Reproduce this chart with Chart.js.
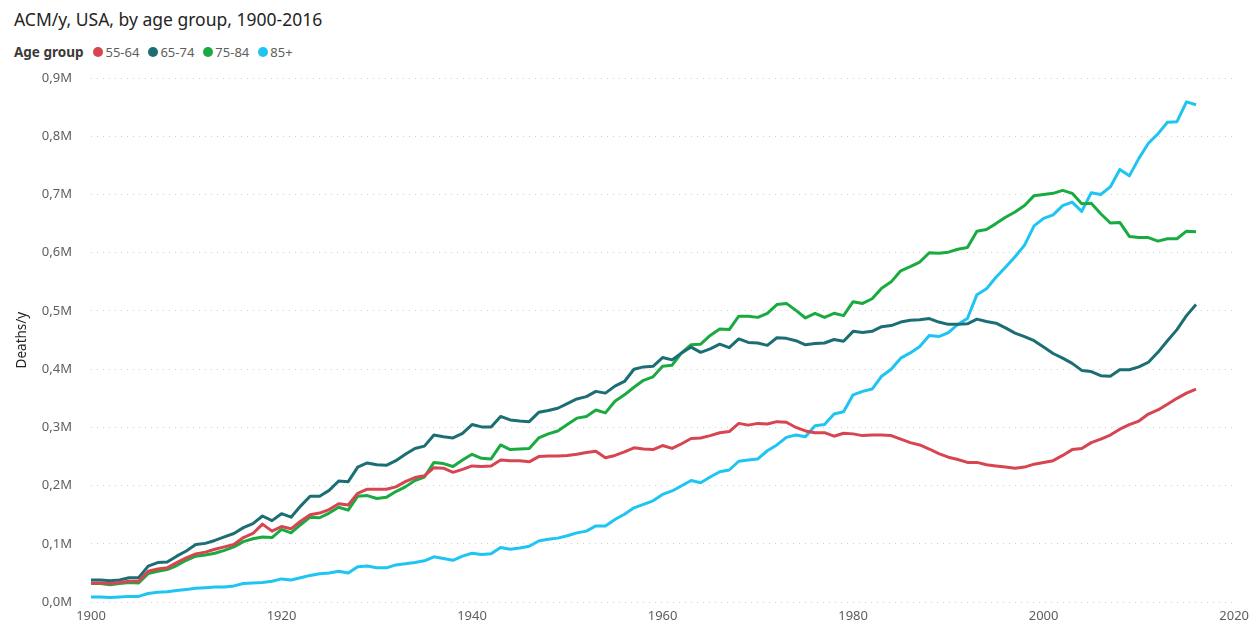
<!DOCTYPE html>
<html lang="en">
<head>
    <meta charset="UTF-8">
    <title>ACM/y, USA, by age group</title>
    <style>
        body {
            margin: 0;
            width: 1255px;
            height: 624px;
            position: relative;
            background: #fff;
            font-family: "Segoe UI", "Noto Sans", sans-serif;
            overflow: hidden;
        }

        .title {
            position: absolute;
            left: 14px;
            top: 7px;
            font-size: 17.5px;
            color: #252423;
        }

        .legend {
            position: absolute;
            left: 14px;
            top: 43px;
            font-size: 13px;
            color: #605e5c;
            display: flex;
            align-items: center;
        }

        .legend b {
            color: #3b3a39;
            margin-right: 10px;
            font-size: 13.5px;
        }

        .legend span.item {
            display: flex;
            align-items: center;
            margin-right: 9px;
        }

        .legend i {
            display: inline-block;
            width: 10px;
            height: 10px;
            border-radius: 50%;
            margin-right: 2px;
        }

        .chart-box {
            position: absolute;
            left: 0;
            top: 0;
            width: 1255px;
            height: 629px;
        }

        canvas {
            display: block;
        }
    </style>
</head>
<body>
    <div class="title">ACM/y, USA, by age group, 1900-2016</div>
    <div class="legend" id="legend"><b>Age group</b></div>

    <div class="chart-box">
        <canvas id="acmChart" width="1255" height="629"></canvas>
    </div>

    <script src="https://cdn.jsdelivr.net/npm/chart.js"></script>

    <script>
        // years 1900..2016, deaths per year in thousands
        const years = [];
        for (let y = 1900; y <= 2016; y++) years.push(y);

        const ageGroups = ['55-64', '65-74', '75-84', '85+'];
        const colors = ['#D64550', '#1C6E75', '#1AAB40', '#1FC5F2'];

        const age55_64 = [
            33, 33, 32, 34, 36, 36, 53, 57, 59, 68,
            76, 83, 86, 91, 95, 99, 111, 118, 134, 122,
            130, 126, 139, 150, 153, 159, 169, 167, 187, 194,
            194, 194, 198, 207, 214, 217, 231, 230, 223, 228,
            234, 233, 234, 244, 243, 243, 241, 250, 251, 251,
            252, 254, 257, 259, 248, 252, 258, 265, 263, 262,
            269, 264, 272, 281, 282, 286, 291, 293, 307, 304,
            307, 306, 310, 309, 300, 294, 291, 291, 285, 290,
            289, 286, 287, 287, 286, 280, 274, 270, 263, 255,
            249, 245, 240, 240, 236, 234, 232, 230, 232, 237,
            240, 243, 252, 262, 264, 274, 280, 287, 297, 305,
            311, 323, 330, 340, 350, 359, 366
        ];

        const age65_74 = [
            38, 38, 37, 38, 42, 42, 62, 68, 69, 79,
            88, 99, 101, 106, 112, 118, 128, 135, 148, 140,
            152, 146, 165, 182, 182, 192, 208, 207, 232, 239,
            236, 235, 243, 254, 264, 268, 287, 284, 282, 290,
            305, 301, 301, 319, 313, 311, 310, 326, 329, 333,
            341, 349, 353, 362, 359, 371, 379, 400, 404, 405,
            420, 416, 428, 438, 429, 435, 443, 437, 452, 446,
            445, 441, 454, 453, 449, 442, 444, 445, 451, 448,
            465, 463, 465, 473, 475, 481, 484, 485, 487, 481,
            477, 477, 478, 486, 482, 479, 471, 462, 456, 449,
            438, 427, 419, 410, 398, 396, 389, 388, 399, 399,
            404, 412, 429, 449, 468, 492, 511
        ];

        const age75_84 = [
            32, 32, 30, 32, 34, 33, 49, 53, 56, 63,
            72, 79, 81, 84, 89, 95, 104, 109, 112, 111,
            125, 119, 133, 146, 145, 153, 163, 158, 182, 183,
            178, 180, 190, 198, 209, 215, 240, 238, 233, 244,
            254, 247, 246, 270, 262, 263, 264, 282, 289, 294,
            305, 316, 319, 330, 325, 345, 356, 369, 381, 387,
            405, 407, 428, 442, 443, 458, 469, 468, 491, 491,
            489, 496, 511, 513, 501, 488, 496, 489, 496, 492,
            516, 513, 521, 539, 550, 569, 576, 584, 600, 599,
            601, 606, 609, 637, 640, 650, 661, 670, 681, 698,
            700, 702, 707, 702, 684, 685, 667, 651, 652, 628,
            626, 626, 620, 624, 624, 637, 636
        ];

        const age85plus = [
            9, 9, 8, 9, 10, 10, 15, 17, 18, 20,
            22, 24, 25, 26, 26, 28, 32, 33, 34, 36,
            40, 38, 42, 46, 49, 50, 53, 50, 61, 62,
            59, 59, 64, 66, 68, 71, 78, 75, 72, 79,
            84, 82, 83, 94, 91, 93, 96, 105, 108, 110,
            114, 119, 122, 131, 131, 142, 151, 162, 168, 174,
            185, 191, 200, 209, 205, 215, 224, 227, 242, 244,
            246, 260, 270, 283, 287, 284, 303, 305, 323, 327,
            356, 362, 366, 388, 400, 419, 428, 439, 458, 456,
            463, 477, 487, 528, 538, 558, 575, 593, 613, 646,
            659, 665, 681, 687, 671, 703, 700, 713, 743, 732,
            762, 788, 804, 824, 825, 859, 854
        ];

        const seriesValues = [age55_64, age65_74, age75_84, age85plus];
        const xTicks = [1900, 1920, 1940, 1960, 1980, 2000, 2020];

        // html legend
        const legendEl = document.getElementById('legend');
        ageGroups.forEach((name, i) => {
            const s = document.createElement('span');
            s.className = 'item';
            s.innerHTML = '<i style="background:' + colors[i] + '"></i>' + name;
            legendEl.appendChild(s);
        });

        const datasets = ageGroups.map((name, i) => ({
            label: name,
            data: seriesValues[i].map((v, j) => ({ x: years[j], y: v * 1000 })),
            borderColor: colors[i],
            backgroundColor: colors[i],
            borderWidth: 3,
            pointRadius: 0,
            tension: 0,
            borderJoinStyle: 'round'
        }));

        const tickFont = { family: '"Segoe UI", "Noto Sans", sans-serif', size: 13 };

        const ctx = document.getElementById('acmChart').getContext('2d');
        new Chart(ctx, {
            type: 'line',
            data: { datasets: datasets },
            options: {
                responsive: false,
                animation: false,
                layout: { padding: { left: 14, right: 15, top: 78, bottom: 0 } },
                plugins: {
                    legend: { display: false },
                    tooltip: { enabled: false }
                },
                scales: {
                    x: {
                        type: 'linear',
                        min: 1900,
                        max: 2020,
                        afterBuildTicks: (scale) => {
                            scale.ticks = xTicks.map(v => ({ value: v }));
                        },
                        afterFit: (scale) => { scale.height = 23; },
                        grid: { display: false, drawTicks: false },
                        border: { display: false },
                        ticks: {
                            color: '#605e5c',
                            font: tickFont,
                            padding: 6,
                            maxRotation: 0,
                            callback: (v) => String(v)
                        }
                    },
                    y: {
                        min: 0,
                        max: 900000,
                        afterFit: (scale) => { scale.width = 77; },
                        grid: {
                            color: '#d2d0ce',
                            lineWidth: 1,
                            drawTicks: false
                        },
                        border: { display: false, dash: [1, 5] },
                        title: {
                            display: true,
                            text: 'Deaths/y',
                            color: '#252423',
                            font: { family: '"Segoe UI", "Noto Sans", sans-serif', size: 13.5 },
                            padding: { top: 0, bottom: 2 }
                        },
                        ticks: {
                            stepSize: 100000,
                            color: '#605e5c',
                            font: tickFont,
                            padding: 19,
                            callback: (v) => (v / 1e6).toFixed(1).replace('.', ',') + 'M'
                        }
                    }
                }
            }
        });
    </script>
</body>
</html>
